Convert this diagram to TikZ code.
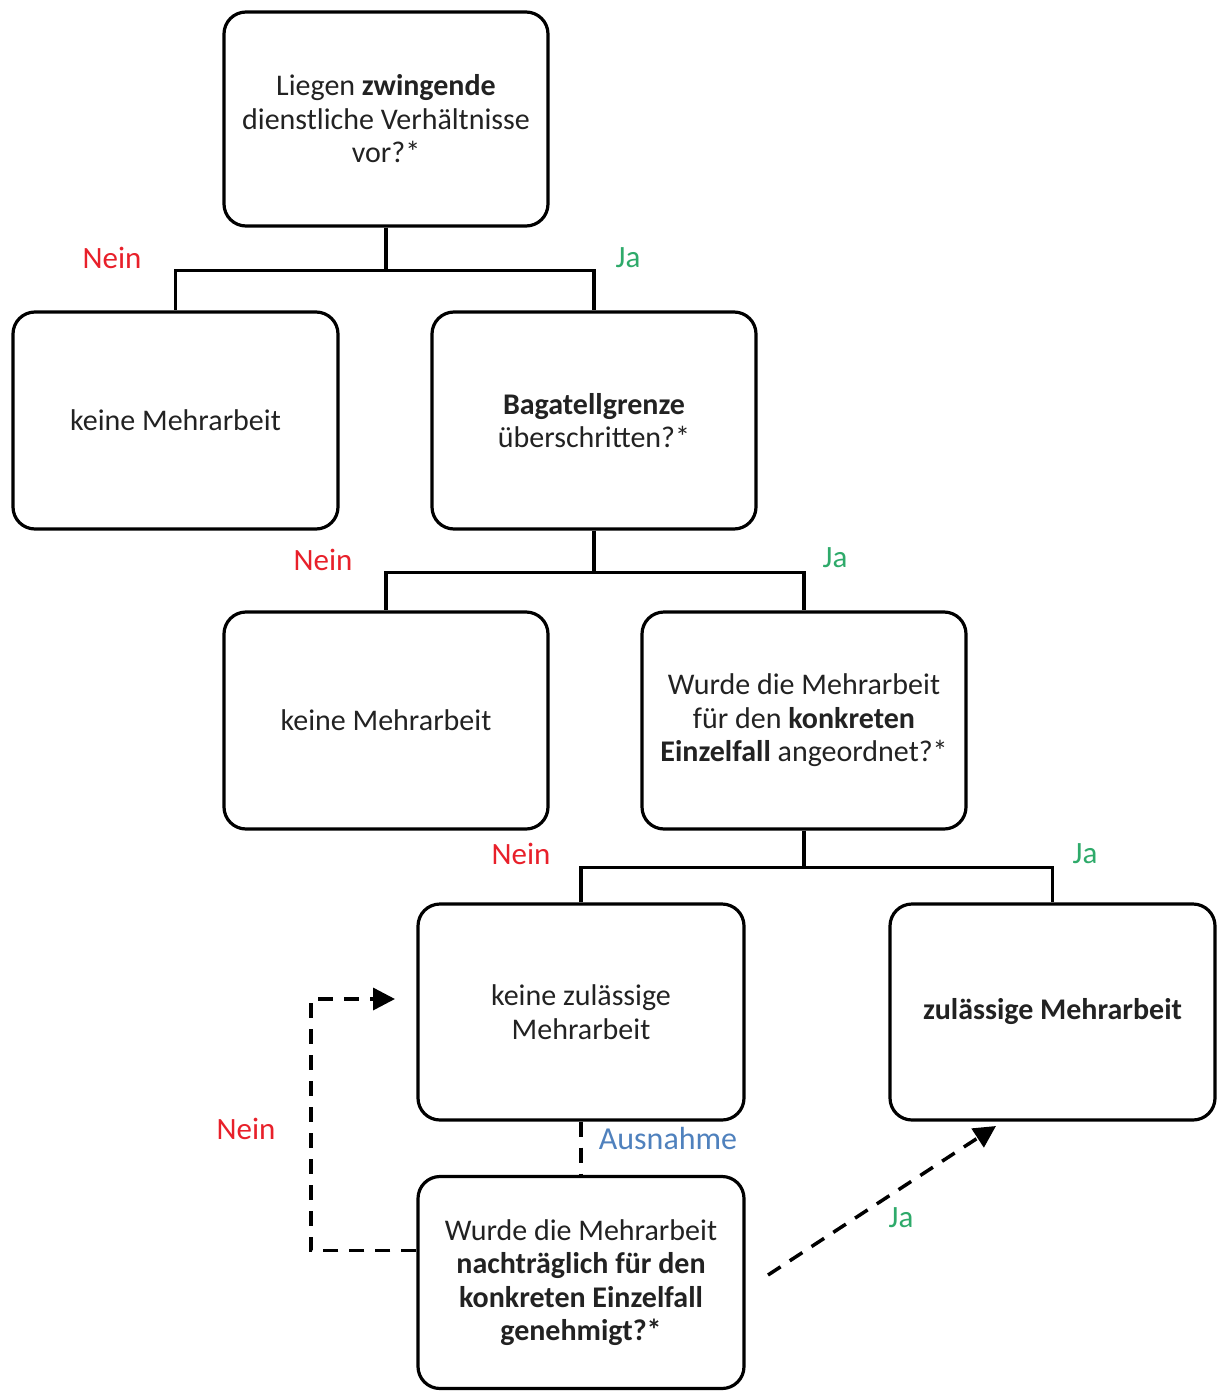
\documentclass[tikz,border=0pt]{standalone}
\usepackage{fontspec}
\setmainfont{Carlito}
\usetikzlibrary{arrows.meta}
\definecolor{neinred}{HTML}{E8202A}
\definecolor{jagreen}{HTML}{2EAA6A}
\definecolor{ausblue}{HTML}{4F81BD}
\definecolor{boxtext}{HTML}{222222}
\begin{document}
\begin{tikzpicture}[x=1pt,y=-1pt,
  box/.style={draw, line width=3.2pt, rounded corners=22pt, inner sep=0pt,
    align=center, text=boxtext, font=\fontsize{30}{33.5}\selectfont},
  conn/.style={line width=3.2pt},
  dashline/.style={line width=3.5pt, dash pattern=on 15pt off 11pt},
  tip/.style={-{Triangle[length=22pt,width=22pt]}},
  nein/.style={text=neinred, font=\fontsize{31}{36}\selectfont},
  ja/.style={text=jagreen, font=\fontsize{31}{36}\selectfont},
  aus/.style={text=ausblue, font=\fontsize{32}{36}\selectfont}
]
\useasboundingbox (0,0) rectangle (1223,1391);

\node[box, minimum width=324pt, minimum height=214pt] (b1) at (386,119)
  {Liegen \textbf{zwingende}\\dienstliche Verhältnisse\\vor?*};
\node[box, minimum width=325pt, minimum height=217pt] (b2) at (175.5,420.5)
  {keine Mehrarbeit};
\node[box, minimum width=324pt, minimum height=217pt] (b3) at (594,420.5)
  {\textbf{Bagatellgrenze}\\überschritten?*};
\node[box, minimum width=324pt, minimum height=217pt] (b4) at (386,720.5)
  {keine Mehrarbeit};
\node[box, minimum width=324pt, minimum height=217pt] (b5) at (804,720.5)
  {Wurde die Mehrarbeit\\für den \textbf{konkreten}\\\textbf{Einzelfall} angeordnet?*};
\node[box, minimum width=326pt, minimum height=216pt] (b6) at (581,1012)
  {keine zulässige\\Mehrarbeit};
\node[box, minimum width=325pt, minimum height=216pt] (b7) at (1052.5,1012)
  {\textbf{zulässige Mehrarbeit}};
\node[box, minimum width=326pt, minimum height=212pt] (b8) at (581,1282.5)
  {Wurde die Mehrarbeit\\\textbf{nachträglich für den}\\\textbf{konkreten Einzelfall}\\\textbf{genehmigt?*}};

% tree connectors
\draw[conn] (b1.south) -- ++(0,43) -| (b2.north);
\draw[conn] (b1.south) -- ++(0,43) -| (b3.north);
\draw[conn] (b3.south) -- ++(0,42) -| (b4.north);
\draw[conn] (b3.south) -- ++(0,42) -| (b5.north);
\draw[conn] (b5.south) -- ++(0,37) -| (b6.north);
\draw[conn] (b5.south) -- ++(0,37) -| (b7.north);

% exception link
\draw[dashline] (b6.south) -- (b8.north);

% dashed arrows
\coordinate (ncorner) at (311,999);
\coordinate (ntip) at (395,999);
\draw[dashline, tip] ([yshift=32pt]b8.west) -| (ncorner) -- (ntip);
\coordinate (jstart) at (768,1275);
\coordinate (jtip) at (996,1126);
\draw[dashline, tip] (jstart) -- (jtip);

% labels
\node[nein] (l1) at (112,258) {Nein};
\node[ja] (l2) at (628,258) {Ja};
\node[nein] (l3) at (323,560) {Nein};
\node[ja] (l4) at (835,558) {Ja};
\node[nein] (l5) at (521,854) {Nein};
\node[ja] (l6) at (1085,854) {Ja};
\node[nein] (l7) at (246,1129) {Nein};
\node[aus] (l8) at (668,1138) {Ausnahme};
\node[ja] (l9) at (901,1218) {Ja};
\end{tikzpicture}
\end{document}
